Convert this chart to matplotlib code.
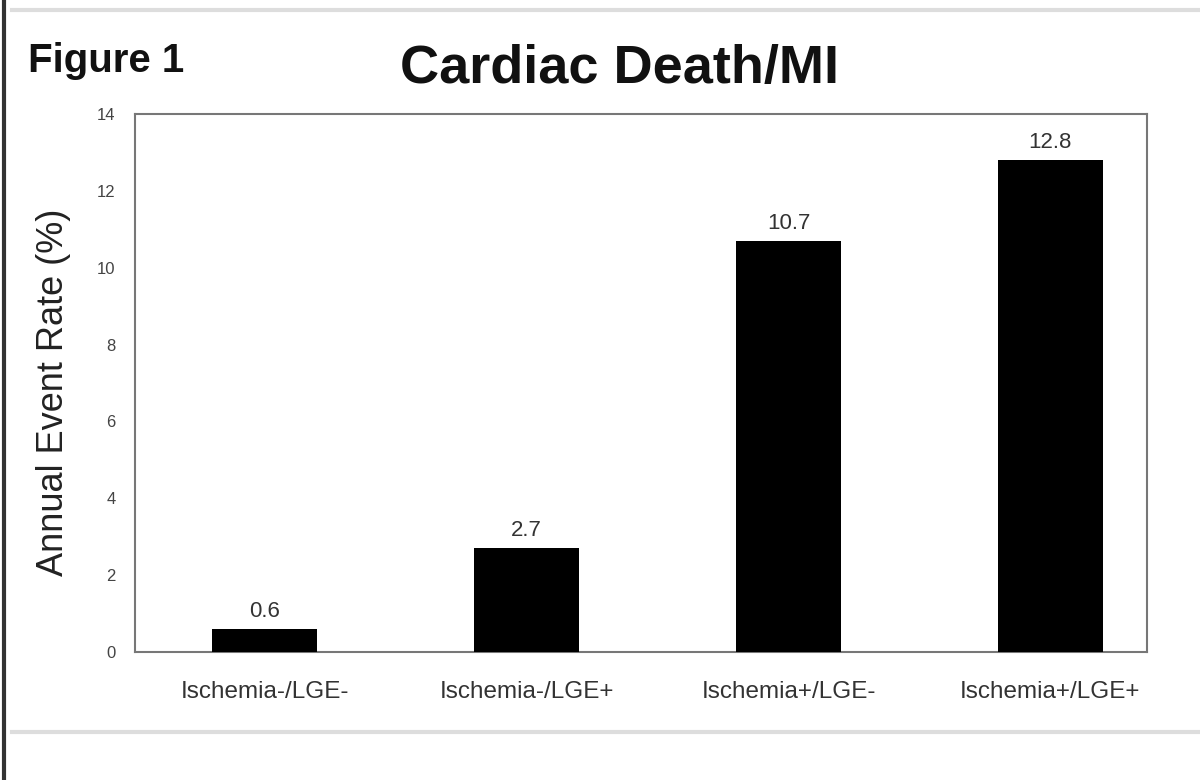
import matplotlib
matplotlib.use("Agg")
import matplotlib.pyplot as plt
from matplotlib.lines import Line2D

categories = ["Ischemia-/LGE-", "Ischemia-/LGE+", "Ischemia+/LGE-", "Ischemia+/LGE+"]
values = [0.6, 2.7, 10.7, 12.8]
value_labels = ["0.6", "2.7", "10.7", "12.8"]
yticks = [0, 2, 4, 6, 8, 10, 12, 14]

plt.rcParams['font.family'] = ['Liberation Sans', 'DejaVu Sans']

fig = plt.figure(figsize=(12, 7.8), dpi=100)
fig.patch.set_facecolor('white')
ax = fig.add_axes([0.1125, 0.164, 0.8435, 0.690])

x = list(range(len(categories)))
ax.bar(x, values, width=0.40, color='black', zorder=3)
for xi, v, lab in zip(x, values, value_labels):
    ax.text(xi, v + 0.18, lab, ha='center', va='bottom', fontsize=16, color='#333333')

ax.set_xlim(-0.496, 3.37)
ax.set_ylim(0, 14)
ax.set_yticks(yticks)
ax.set_yticklabels([str(t) for t in yticks], fontsize=12, color='#444444')
ax.set_xticks(x)
ax.set_xticklabels(categories, fontsize=17.5, color='#333333')
ax.tick_params(axis='y', length=0, pad=14)
ax.tick_params(axis='x', length=0, pad=21)
for s in ax.spines.values():
    s.set_color('#777777')
    s.set_linewidth(1.5)

fig.text(0.045, 0.497, "Annual Event Rate (%)", rotation=90, ha='center', va='center',
         fontsize=26, color='#222222')
fig.text(0.516, 0.8936, "Cardiac Death/MI", ha='center', va='baseline', fontsize=39,
         fontweight='bold', color='#111111')
fig.text(0.023, 0.9077, "Figure 1", ha='left', va='baseline', fontsize=29,
         fontweight='bold', color='#111111')

# frame lines
fig.add_artist(Line2D([0.003, 0.003], [0, 1], transform=fig.transFigure, color='#333333', linewidth=3))
fig.add_artist(Line2D([0.01, 1], [0.987, 0.987], transform=fig.transFigure, color='#dddddd', linewidth=3))
fig.add_artist(Line2D([0.01, 1], [0.062, 0.062], transform=fig.transFigure, color='#dddddd', linewidth=3))

fig.savefig("out.png", dpi=100, facecolor='white')
